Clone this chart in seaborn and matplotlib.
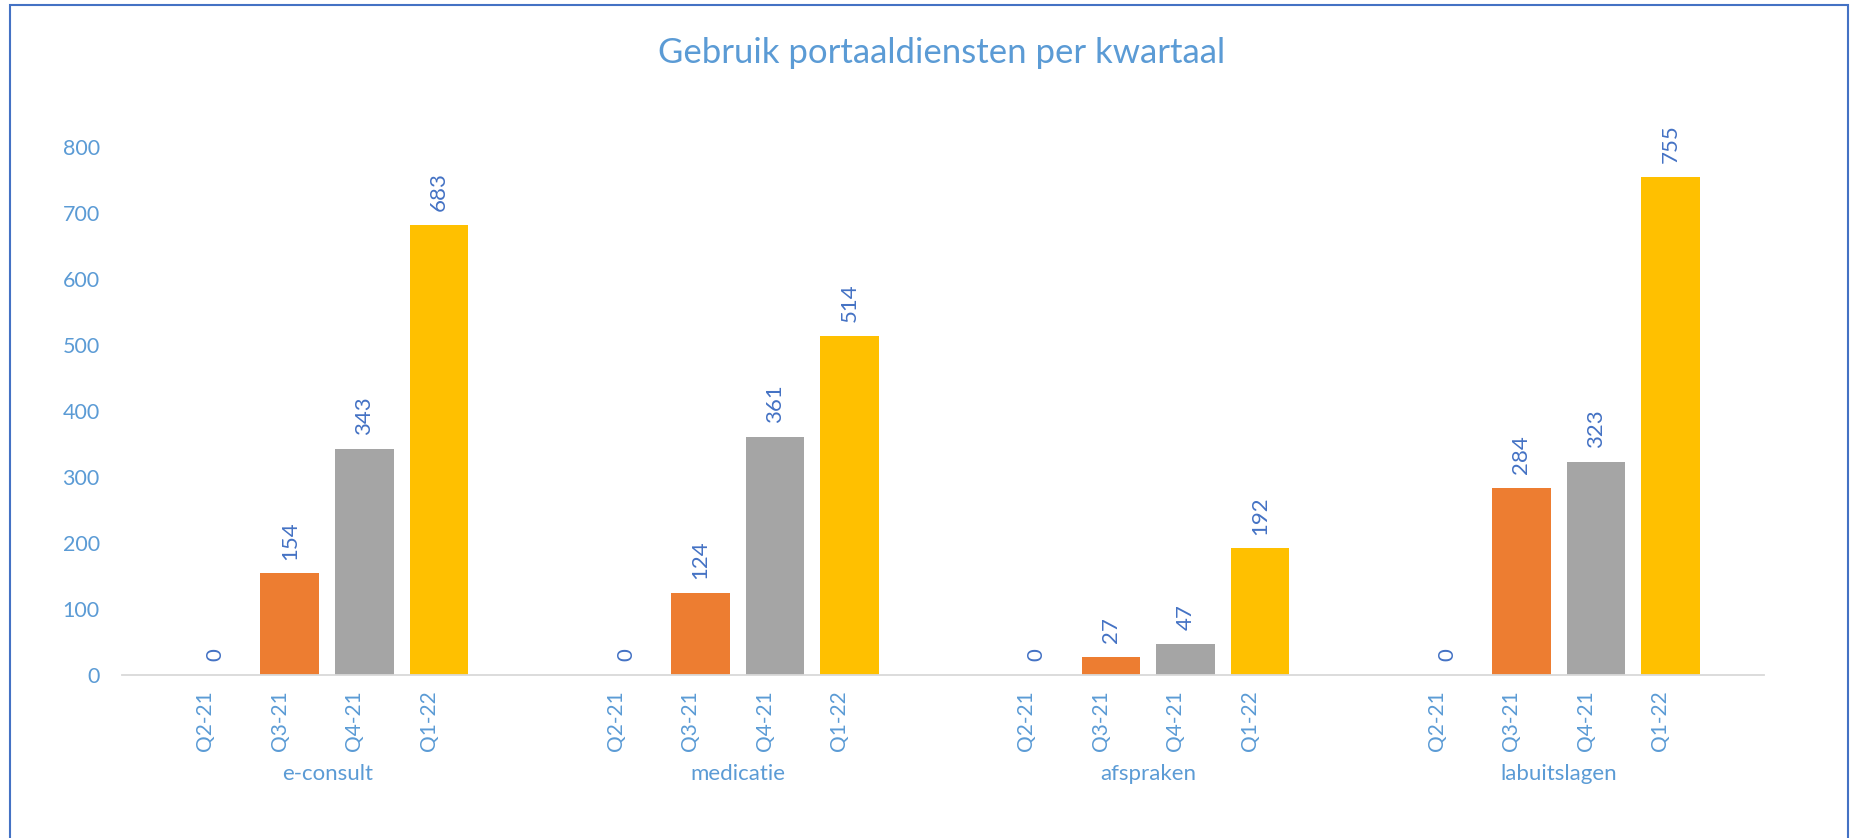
import pandas as pd
import matplotlib
matplotlib.use('Agg')
import matplotlib.pyplot as plt
import seaborn as sns
from matplotlib.patches import Rectangle

# Data
groups = ['e-consult', 'medicatie', 'afspraken', 'labuitslagen']
quarters = ['Q2-21', 'Q3-21', 'Q4-21', 'Q1-22']
q2_21 = [0, 0, 0, 0]
q3_21 = [154, 124, 27, 284]
q4_21 = [343, 361, 47, 323]
q1_22 = [683, 514, 192, 755]
colors = ['#5B9BD5', '#ED7D31', '#A5A5A5', '#FFC000']

# Long table for seaborn
rows = []
for q, vals in zip(quarters, [q2_21, q3_21, q4_21, q1_22]):
    for g, v in zip(groups, vals):
        rows.append({'dienst': g, 'kwartaal': q, 'aantal': v})
df = pd.DataFrame(rows)

sns.set_style('white')
plt.rcParams['font.family'] = ['Lato', 'DejaVu Sans']

title_blue = '#5B9BD5'
label_blue = '#4472C4'
axis_grey = '#D9D9D9'

fig = plt.figure(figsize=(18.5, 8.38), dpi=100)
ax = fig.add_axes([0.0659, 0.1945, 0.8876, 0.6295])

sns.barplot(data=df, x='dienst', y='aantal', hue='kwartaal', order=groups,
            hue_order=quarters, palette=colors, saturation=1, width=0.726,
            gap=0.21, linewidth=0, legend=False, ax=ax)

# Value labels on top of the bars
for c in ax.containers:
    ax.bar_label(c, rotation=90, padding=10, fontsize=16, color=label_blue)

# Quarter labels under each bar, group names below them
centers = []
for c in ax.containers:
    for bar in c:
        centers.append(bar.get_x() + bar.get_width() / 2)
order = sorted(range(len(centers)), key=lambda i: centers[i])
tick_pos = [centers[i] for i in order]
tick_lab = [quarters[i // len(groups)] for i in order]
ax.set_xticks(tick_pos)
# anchored at the text bottom, so the labels sit a bit left of the bar centre
ax.set_xticklabels(tick_lab, rotation=90, rotation_mode='anchor',
                   ha='right', va='bottom')
ax.set_xticks([i - 0.5 for i in range(len(groups) + 1)], minor=True)
ax.set_xlim(-0.5, len(groups) - 0.5)

for i, g in enumerate(groups):
    ax.text(i, -0.188, g, transform=ax.get_xaxis_transform(), ha='center',
            va='center', fontsize=16, color=title_blue)

ax.set_ylim(0, 800)
ax.set_yticks(range(0, 801, 100))
ax.set_xlabel('')
ax.set_ylabel('')

ax.tick_params(axis='x', which='major', length=0, pad=11, labelsize=15,
               labelcolor=title_blue)
ax.tick_params(axis='x', which='minor', length=8, width=1.3, color=axis_grey)
ax.tick_params(axis='y', length=0, pad=16, labelsize=15.5, labelcolor=title_blue)

for s in ['top', 'right', 'left']:
    ax.spines[s].set_visible(False)
ax.spines['bottom'].set_color(axis_grey)
ax.spines['bottom'].set_linewidth(1.3)

fig.text(0.509, 0.937, 'Gebruik portaaldiensten per kwartaal', ha='center',
         va='center', fontsize=25, color=title_blue)

# Chart frame (bottom edge falls outside the image)
fig.patches.append(Rectangle((9.5 / 1850, -0.1), (1848 - 9.5) / 1850,
                             1.1 - 5 / 838, transform=fig.transFigure,
                             fill=False, edgecolor=label_blue, linewidth=1.5))

fig.savefig('out.png', dpi=100)
